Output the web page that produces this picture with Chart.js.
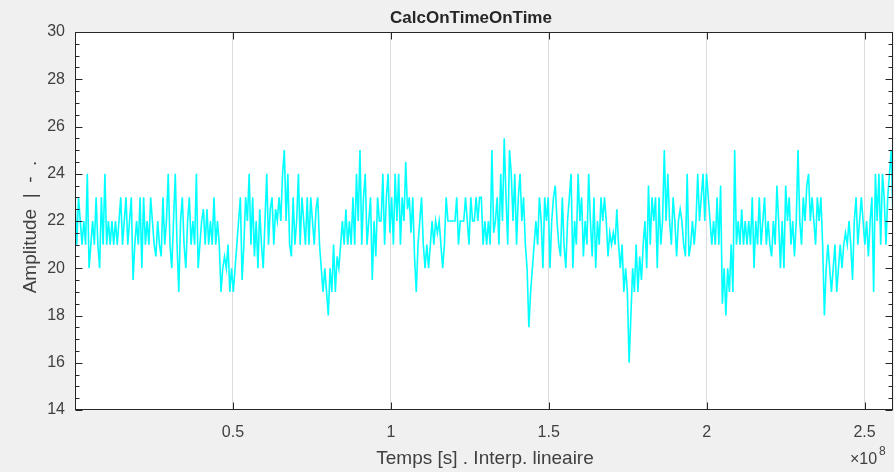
<!DOCTYPE html>
<html>
<head>
<meta charset="utf-8">
<script src="https://cdn.jsdelivr.net/npm/chart.js@4"></script>
<style>
  html, body { margin: 0; padding: 0; background: #f0f0f0; }
  #wrap { width: 894px; height: 472px; }
</style>
</head>
<body>
<div id="wrap"><canvas id="chart" width="894" height="472"></canvas></div>
<script>
const chartTitle = "CalcOnTimeOnTime";
const xTitle = "Temps [s] . Interp. lineaire";
const yTitle = "Amplitude  |  -  .";

const tStart = 0;
const tEnd = 2.59e8;
const xTickValues = [0.5e8, 1e8, 1.5e8, 2e8, 2.5e8];
const yMin = 14;
const yMax = 30;

// signal, left to right
const amplitude = [
    // 0 .. 0.33e8
    23, 21, 23, 22, 21, 22, 21, 24, 20, 21,
    22, 21, 23, 21, 20, 23, 21, 24, 21, 22,
    21, 22, 21, 22, 21, 22, 23, 21, 22, 23,
    21, 22, 23, 19.5, 21, 22, 21, 23, 20, 23,
    21, 22, 21, 23, 22, 21, 20.5, 22, 21, 20.5,
    23, 21, 22, 24, 21, 20, 22, 24, 21, 19,
    // .. 0.65e8
    22, 23, 21, 20, 22, 23, 21, 22, 21,
    24, 20,
    21, 22, 22.5, 21, 22.5, 21, 22, 21, 23, 21, 22,
    21, 19, 20, 20.5, 20, 21, 19, 20, 19, 20,
    21, 22, 23, 19.5, 21, 23, 22,
    24, 21, 23, 20.5,
    22, 20, 22.5, 21, 20, 22, 24, 21, 22.5,
    23, 21, 22.5, 22, 23,
    // .. 0.97e8
    22, 24, 25,
    22, 24, 21, 20.5,
    23, 21, 22, 24, 21,
    23, 22, 21, 23, 21, 23, 22, 21, 22.5, 23,
    21, 20, 19, 20, 19, 18, 20, 19, 21, 19, 20.5, 20,
    21, 22, 21, 22.5, 21, 22, 21, 23, 21,
    24, 22, 25,
    21, 23, 24, 21, 22, 23, 19.5, 22, 20.5,
    23, 22,
    // .. 1.29e8
    22, 24, 21, 23, 24, 21.5, 23, 21, 24, 22, 24, 21, 23, 22,
    24.5, 22.5,
    23, 21.5, 23, 20.5, 19,
    21, 22, 23, 21, 20, 21, 20,
    21, 22, 21, 22, 21.5, 22, 21,
    20, 21, 23,
    22, 22, 22, 22, 22, 23, 21, 22, 22, 22,
    23, 22, 21, 23, 22, 22, 23, 22, 23,
    // .. 1.6e8
    23, 21, 22, 21, 22, 21,
    25,
    21.5, 22,
    23, 21, 24, 22,
    25.5,
    23, 21,
    25,
    24, 22, 24, 21, 23, 24, 22,
    23, 21,
    20, 17.5,
    19, 20, 21,
    22, 21, 23, 22, 20, 23, 22, 23,
    20, 22, 23, 23.5,
    22, 21, 20.5, 23, 21, 20, 22, 23, 24, 20, 22, 21,
    24, 22,
    // .. 1.92e8
    23, 20.5, 22, 21, 24,
    22, 20.5, 23, 20,
    22, 21, 23, 22, 23, 22,
    20.5, 21.5, 21, 21.5, 21, 22.5, 21,
    20, 21, 19, 20, 19, 16, 18, 20, 19, 21, 19, 20.5, 19.5, 21,
    22, 20, 23.5, 21, 23, 22, 23, 20,
    23, 21, 22, 25,
    22, 24, 22, 21, 23, 22, 20.5, 22, 22.5,
    // .. 2.24e8
    22, 21, 20.5, 24,
    20.5, 21, 22, 21, 22,
    24, 22, 23, 24, 22, 24, 23,
    22, 21, 22, 21, 23,
    21, 23.5,
    18.5, 20, 18, 20, 19, 21, 19,
    25,
    21, 22, 21, 22.5, 21, 22, 21, 22,
    21, 23, 20, 22, 21, 23, 21, 22, 23, 21,
    22, 21, 20.5, 22, 21, 23.5, 22, 20,
    // .. 2.59e8
    22, 20, 23.5,
    22, 23, 21, 22, 20.5, 22,
    25,
    22, 21, 23, 22, 23.5, 24,
    22, 23, 22, 21, 23, 22, 23,
    21, 18, 20, 21, 20, 19, 20, 21, 19, 20, 21, 20,
    21, 21.5, 21, 22, 21, 19.5,
    22, 23, 21, 22, 23,
    22, 21, 22, 20.5, 22, 23, 19, 24,
    22, 24, 21, 24, 23, 21, 23, 24, 25, 22
];

const dt = (tEnd - tStart) / (amplitude.length - 1);
const points = amplitude.map((v, i) => ({ x: tStart + i * dt, y: v }));

const axisColor = "#262626";
const textColor = "#404040";
const font = "'Liberation Sans', Arial, Helvetica, sans-serif";

const matlabAxes = {
    id: "matlabAxes",
    beforeDraw(chart) {
        const { ctx, chartArea: a } = chart;
        ctx.save();
        ctx.fillStyle = "#f0f0f0";
        ctx.fillRect(0, 0, chart.width, chart.height);
        ctx.fillStyle = "#ffffff";
        ctx.fillRect(a.left, a.top, a.right - a.left, a.bottom - a.top);
        ctx.restore();
    },
    afterDraw(chart) {
        const { ctx, chartArea: a, scales: { x, y } } = chart;
        ctx.save();
        ctx.strokeStyle = axisColor;
        ctx.lineWidth = 1;
        const L = Math.round(a.left) + 0.5;
        const R = Math.round(a.right) - 0.5;
        const T = Math.round(a.top) + 0.5;
        const B = Math.round(a.bottom) - 0.5;
        ctx.strokeRect(L, T, R - L, B - T);

        ctx.beginPath();
        // x ticks on top and bottom, pointing in
        xTickValues.forEach(v => {
            const px = Math.round(x.getPixelForValue(v)) + 0.5;
            ctx.moveTo(px, B); ctx.lineTo(px, B - 7);
            ctx.moveTo(px, T); ctx.lineTo(px, T + 7);
        });
        // y ticks: major every 2, minor every 0.5
        for (let v = yMin; v <= yMax; v += 0.5) {
            const py = Math.round(y.getPixelForValue(v)) + 0.5;
            const len = (v % 2 === 0) ? 7 : 4;
            ctx.moveTo(L, py); ctx.lineTo(L + len, py);
            ctx.moveTo(R, py); ctx.lineTo(R - len, py);
        }
        ctx.stroke();

        ctx.fillStyle = axisColor;
        ctx.textAlign = "center";
        ctx.textBaseline = "middle";
        ctx.font = "bold 17px " + font;
        ctx.fillText(chartTitle, 471, 18);

        ctx.fillStyle = textColor;
        ctx.font = "19px " + font;
        ctx.textBaseline = "alphabetic";
        ctx.fillText(xTitle, 485, 464);

        ctx.save();
        ctx.translate(36, 227);
        ctx.rotate(-Math.PI / 2);
        ctx.fillText(yTitle, 0, 0);
        ctx.restore();

        // exponent
        ctx.textAlign = "left";
        ctx.font = "16px " + font;
        ctx.fillText("\u00d710", 850, 464);
        ctx.font = "12px " + font;
        ctx.fillText("8", 879, 455);
        ctx.restore();
    }
};

new Chart(document.getElementById("chart").getContext("2d"), {
    type: "line",
    data: {
        datasets: [{
            data: points,
            borderColor: "#00ffff",
            borderWidth: 1.6,
            pointRadius: 0,
            tension: 0,
            fill: false
        }]
    },
    options: {
        responsive: false,
        animation: false,
        parsing: false,
        layout: { padding: { top: 32, right: 1, left: 0, bottom: 0 } },
        plugins: {
            legend: { display: false },
            title: { display: false },
            tooltip: { enabled: false }
        },
        scales: {
            x: {
                type: "linear",
                min: tStart,
                max: tEnd,
                afterBuildTicks: scale => {
                    scale.ticks = xTickValues.map(value => ({ value }));
                },
                afterFit: scale => { scale.height = 62; },
                border: { display: false },
                grid: { color: "#dcdcdc", drawTicks: false, lineWidth: 1 },
                ticks: {
                    color: textColor,
                    font: { family: font, size: 16 },
                    padding: 13,
                    maxRotation: 0,
                    callback: v => String(v / 1e8)
                }
            },
            y: {
                min: yMin,
                max: yMax,
                afterFit: scale => { scale.width = 75; },
                border: { display: false },
                grid: { display: false, drawTicks: false },
                ticks: {
                    stepSize: 2,
                    color: textColor,
                    font: { family: font, size: 16 },
                    padding: 10
                }
            }
        }
    },
    plugins: [matlabAxes]
});
</script>
</body>
</html>
